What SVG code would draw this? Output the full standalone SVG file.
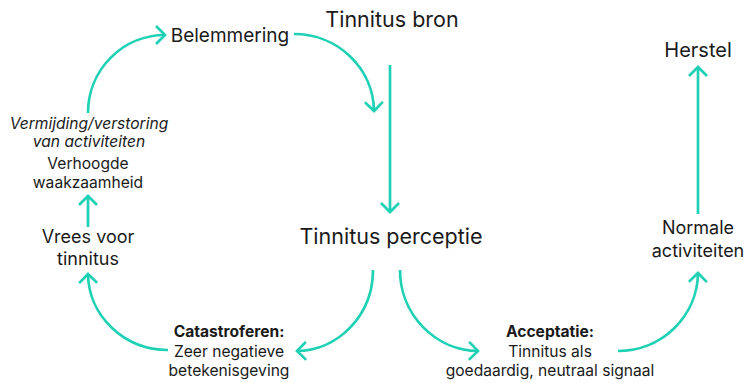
<svg xmlns="http://www.w3.org/2000/svg" width="749" height="383" viewBox="0 0 749 383">
<style>
text{font-family:Inter,"Liberation Sans",sans-serif;fill:#1a1a1a;text-anchor:middle}
.l{font-size:21.5px}
.m{font-size:18px}
.s{font-size:15.6px}
.i{font-style:italic}
.b{font-weight:bold}
.c{fill:none;stroke:#1fd1b4;stroke-width:2.7;marker-end:url(#ah)}
</style>
<defs>
<marker id="ah" markerUnits="userSpaceOnUse" markerWidth="24" markerHeight="24" viewBox="-12 -12 24 24" refX="0" refY="0" orient="auto">
<path d="M-9,-9 L0,0 L-9,9" fill="none" stroke="#1fd1b4" stroke-width="2.7"/>
</marker>
</defs>
<rect width="749" height="383" fill="#fff"/>
<g id="connectors">
<path class="c" d="M88,113 A77,78 0 0 1 165,35"/>
<path class="c" d="M294,34 A80,78 0 0 1 374,111"/>
<path class="c" d="M390,65 L390,212"/>
<path class="c" d="M88,227 L88,196"/>
<path class="c" d="M373,270 A77,81 0 0 1 297,351"/>
<path class="c" d="M168,350 A80,77 0 0 1 88,274"/>
<path class="c" d="M400,270 A79,81 0 0 0 478,351"/>
<path class="c" d="M618,351 A80,79 0 0 0 698,273"/>
<path class="c" d="M698,214 L698,67"/>
</g>
<g id="bron"><text class="l" x="392" y="27">Tinnitus bron</text></g>
<g id="belemmering"><text class="m" x="230" y="42" style="font-size:19px">Belemmering</text></g>
<g id="herstel"><text class="m" x="698" y="57" style="font-size:20px">Herstel</text></g>
<g id="perceptie"><text class="l" x="391" y="244">Tinnitus perceptie</text></g>
<g id="normale"><text class="m" x="698" y="234">Normale</text><text class="m" x="698" y="257">activiteiten</text></g>
<g id="vrees"><text class="m" x="88" y="243">Vrees voor</text><text class="m" x="88" y="265">tinnitus</text></g>
<g id="verhoogde"><text class="s" x="88" y="169">Verhoogde</text><text class="s" x="88" y="188">waakzaamheid</text></g>
<g id="vermijding"><text class="s i" x="89" y="129">Vermijding/verstoring</text><text class="s i" x="89" y="147">van activiteiten</text></g>
<g id="catastroferen"><text class="s b" x="229" y="337">Catastroferen:</text><text class="s" x="229" y="357">Zeer negatieve</text><text class="s" x="229" y="376">betekenisgeving</text></g>
<g id="acceptatie"><text class="s b" x="550" y="337">Acceptatie:</text><text class="s" x="550" y="357">Tinnitus als</text><text class="s" x="550" y="376">goedaardig, neutraal signaal</text></g>
</svg>
